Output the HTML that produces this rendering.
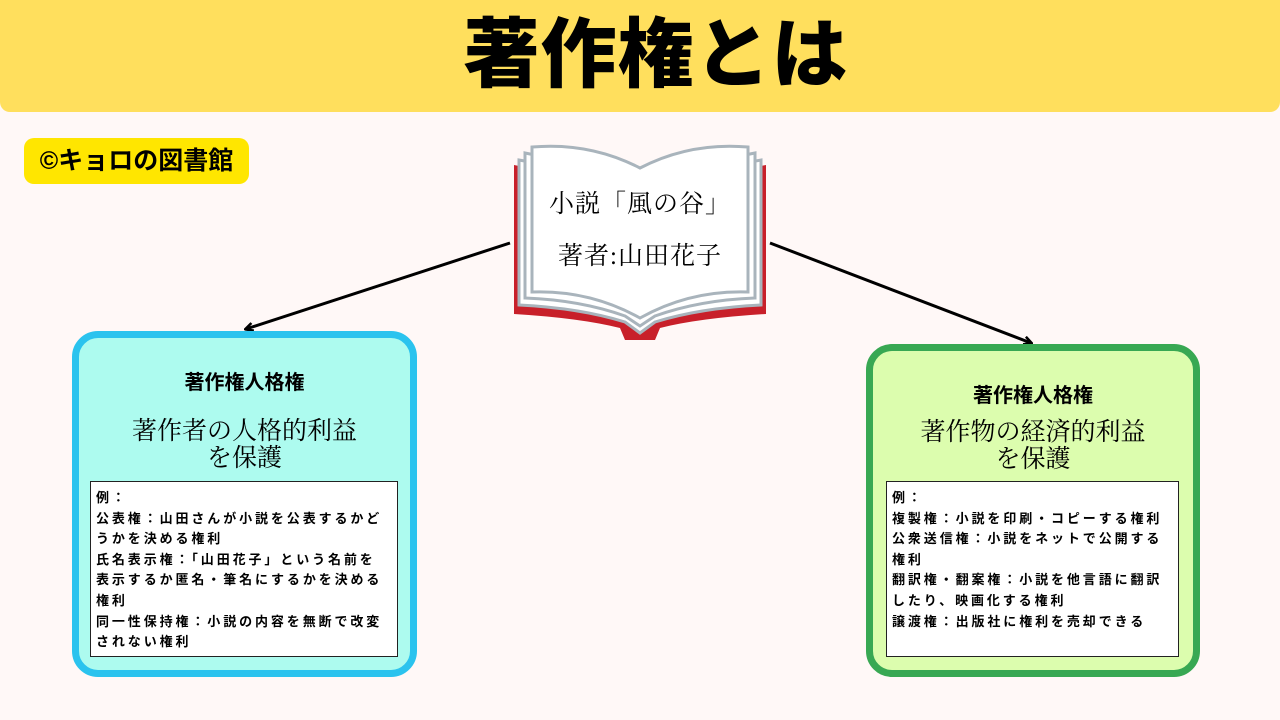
<!DOCTYPE html>
<html><head><meta charset="utf-8"><style>
body{margin:0;width:1280px;height:720px;background:#fff8f7;position:relative;overflow:hidden;font-family:"Liberation Sans","Noto Sans CJK JP",sans-serif}
.hdr{position:absolute;left:0;top:0;width:1280px;height:112px;background:#ffdf5d;border-radius:0 0 10px 10px;text-align:center;font-weight:900;font-size:76px;line-height:112px;color:#000;letter-spacing:1px;box-sizing:border-box;padding-left:32px}
.tag{position:absolute;left:24px;top:138px;width:225px;height:46px;background:#ffe600;border-radius:10px;font-weight:bold;font-size:25px;line-height:46px;text-align:center}
.box{position:absolute;border-radius:26px;box-sizing:border-box}
.t1{position:absolute;width:100%;text-align:center;font-weight:bold;font-size:20px}
.t2{position:absolute;width:100%;text-align:center;font-family:"Liberation Serif","Noto Serif CJK SC",serif;font-size:25px;line-height:27px}
.ex{position:absolute;background:#fff;border:1px solid #222;box-sizing:border-box;font-weight:bold;font-size:13px;line-height:20.6px;padding:6px 5px;letter-spacing:2.9px}
.bk{position:absolute;font-family:"Liberation Serif","Noto Serif CJK JP",serif;font-size:25px;width:200px;text-align:center;letter-spacing:1px}
</style></head><body>
<div class="hdr">著作権とは</div>
<div class="tag">©キョロの図書館</div>
<svg style="position:absolute;left:0;top:0" width="1280" height="720">
<defs><marker id="a" markerWidth="10" markerHeight="10" refX="8" refY="5" orient="auto" markerUnits="userSpaceOnUse"><path d="M1,1 L9,5 L1,9" fill="none" stroke="#000" stroke-width="2.5"/></marker></defs>
<line x1="510" y1="243" x2="246" y2="329" stroke="#000" stroke-width="3" marker-end="url(#a)"/>
<line x1="770" y1="243" x2="1031" y2="343" stroke="#000" stroke-width="3" marker-end="url(#a)"/>
<path d="M514,165 L640,190 L766,165 L766,314 Q700,318 660,328 L655,340 L625,340 L620,328 Q580,318 514,314 Z" fill="#c8202a"/>
<path d="M519,160 L640,182 L761,160 L761,305 Q700,308 655,322 L640,333 L625,322 Q580,308 519,305 Z" fill="#fff" stroke="#a9b4bc" stroke-width="3"/>
<path d="M525,153 L640,176 L755,153 L755,298 Q700,300 655,316 L640,326 L625,316 Q580,300 525,298 Z" fill="#fff" stroke="#a9b4bc" stroke-width="3"/>
<path d="M532,147 Q590,142 640,168 Q690,142 748,147 L748,292 Q690,290 640,318 Q590,290 532,292 Z" fill="#fff" stroke="#a9b4bc" stroke-width="3"/>
</svg>
<div class="bk" style="left:540px;top:184px">小説「風の谷」</div>
<div class="bk" style="left:540px;top:236px">著者:山田花子</div>
<div class="box" style="left:72px;top:331px;width:345px;height:346px;background:#adfbef;border:7px solid #2bc3ee">
<div class="t1" style="top:28px">著作権人格権</div>
<div class="t2" style="top:80px">著作者の人格的利益<br>を保護</div>
</div>
<div class="ex" style="left:90px;top:481px;width:308px;height:176px;padding-right:14px">例：<br>公表権：山田さんが小説を公表するかどうかを決める権利<br>氏名表示権：「山田花子」という名前を<br>表示するか匿名・筆名にするかを決める<br>権利<br>同一性保持権：小説の内容を無断で改変されない権利</div>
<div class="box" style="left:866px;top:344px;width:334px;height:333px;background:#dcfdae;border:7px solid #38a853">
<div class="t1" style="top:28px">著作権人格権</div>
<div class="t2" style="top:68px">著作物の経済的利益<br>を保護</div>
</div>
<div class="ex" style="left:886px;top:481px;width:293px;height:176px">例：<br>複製権：小説を印刷・コピーする権利<br>公衆送信権：小説をネットで公開する権利<br>翻訳権・翻案権：小説を他言語に翻訳したり、映画化する権利<br>譲渡権：出版社に権利を売却できる</div>
</body></html>
